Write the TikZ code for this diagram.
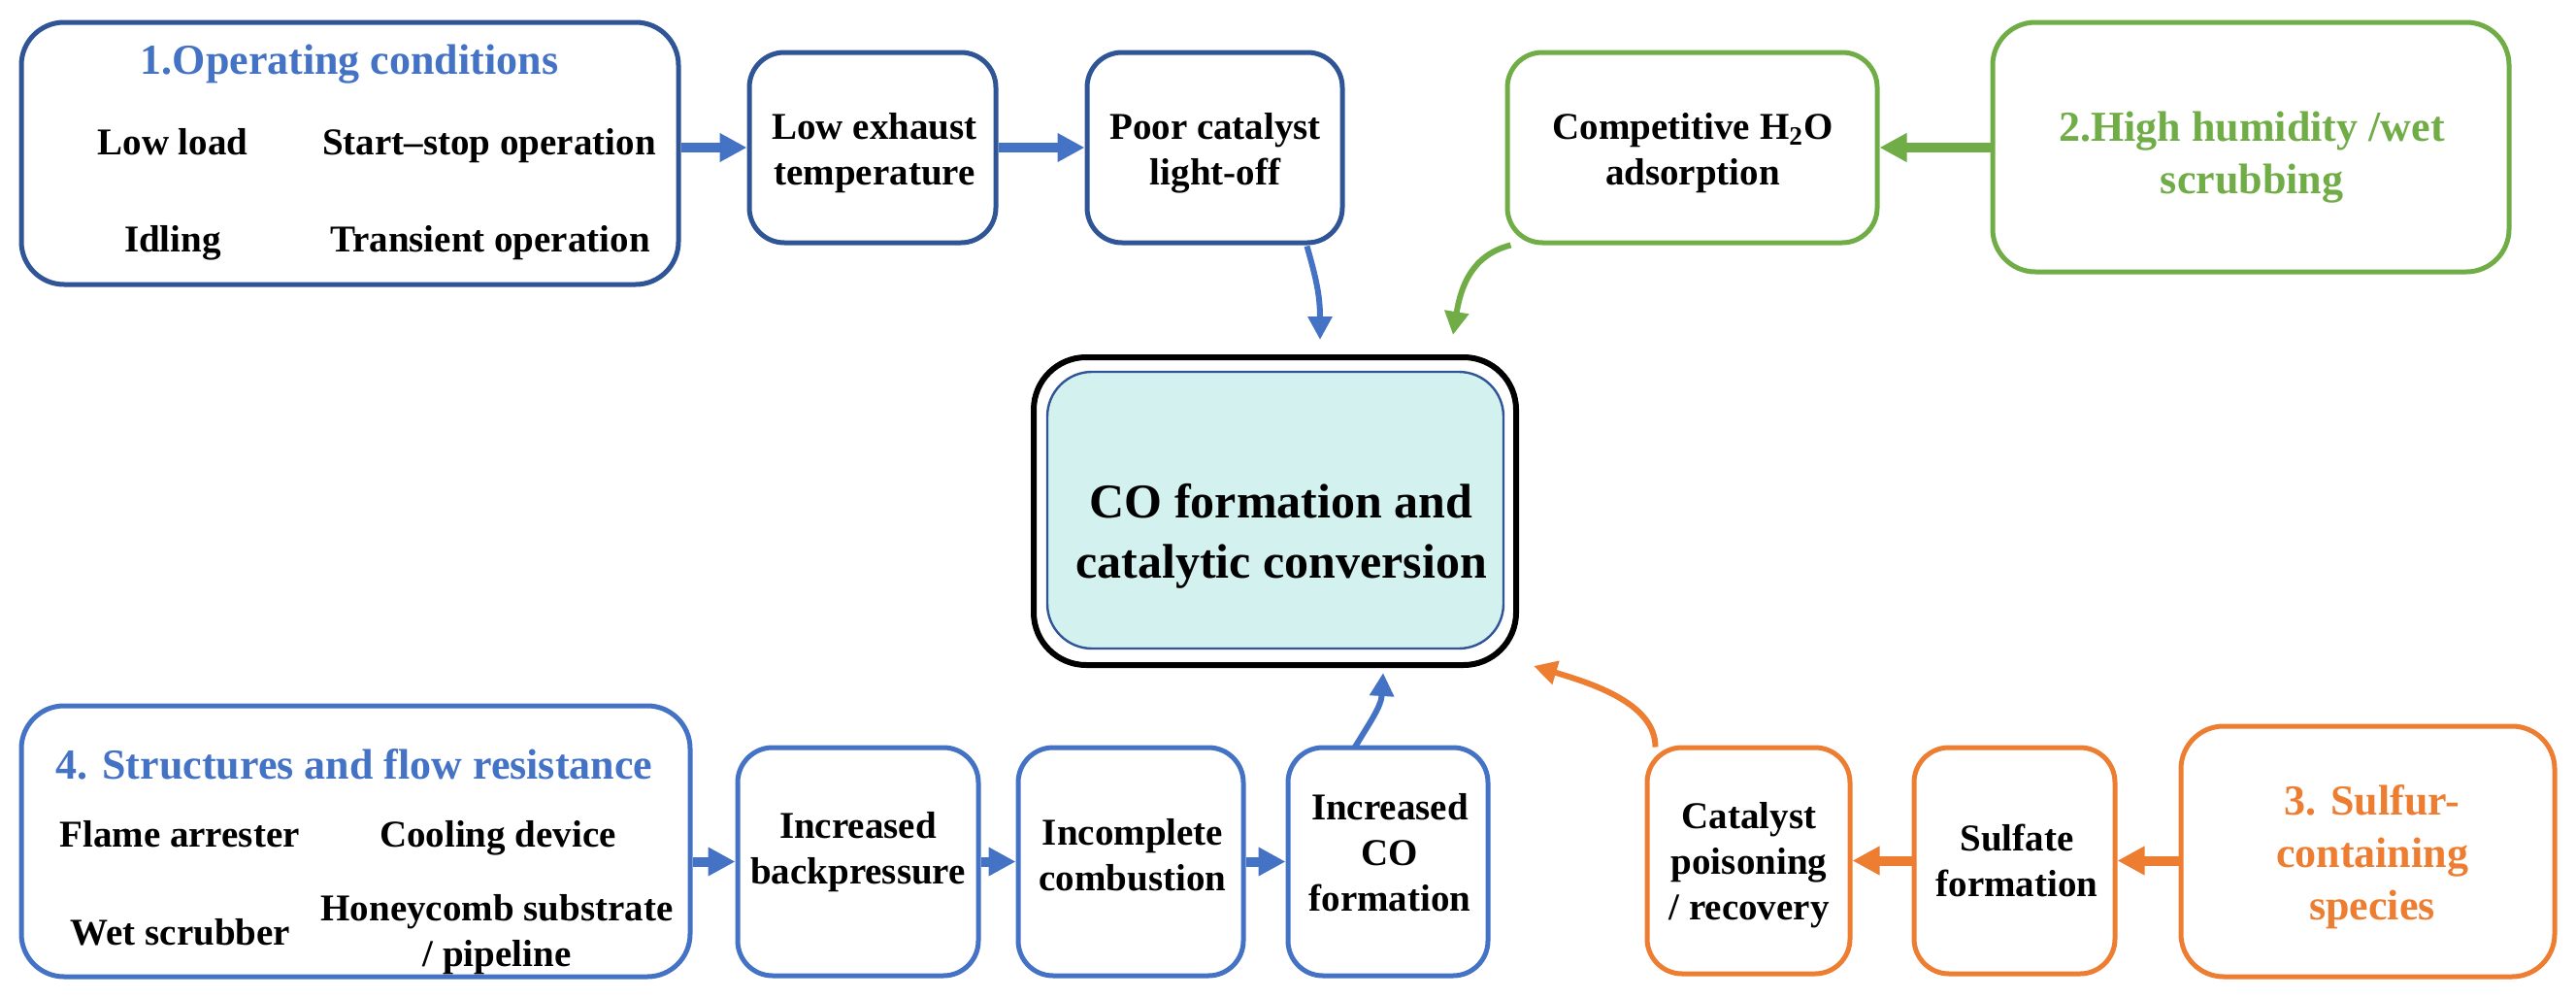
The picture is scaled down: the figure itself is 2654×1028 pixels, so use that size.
\documentclass[tikz,border=0pt]{standalone}
\usepackage{fontspec}
\setmainfont{Liberation Serif}
\usetikzlibrary{arrows.meta,fit,calc}
\definecolor{dblue}{HTML}{2F5597}
\definecolor{mblue}{HTML}{4472C4}
\definecolor{ggreen}{HTML}{70AD47}
\definecolor{oorange}{HTML}{ED7D31}
\definecolor{cyanfill}{HTML}{D3F1EF}
\begin{document}
\begin{tikzpicture}[x=0.5pt,y=-0.5pt,
  box/.style={draw, line width=2.5pt, rounded corners=18pt, inner sep=0pt, fill=white},
  bigbox/.style={box, rounded corners=22pt},
  txt/.style={font=\bfseries\fontsize{19.5}{23.5}\selectfont, align=center, anchor=base, inner sep=0pt},
  ttl/.style={font=\bfseries\fontsize{22}{27}\selectfont, align=center, anchor=base, inner sep=0pt},
  bigarrow/.style={line width=5pt, -{Triangle[length=14pt,width=14pt]}},
  curvy/.style={line width=3pt, -{Triangle[length=12pt,width=12pt]}},
]
\useasboundingbox (0,0) rectangle (2654,1028);

% ---- group 1 ----
\node[bigbox, draw=dblue, fit={(22,23) (699,293)}] (b1) {};
\node[ttl, text=mblue] (t1) at (360,76) {1.Operating conditions};
\node[txt] (t1a) at (178,159) {Low load};
\node[txt] (t1b) at (504,159) {Start--stop operation};
\node[txt] (t1c) at (178,259) {Idling};
\node[txt] (t1d) at (505,259) {Transient operation};

\node[box, draw=dblue, fit={(772,54) (1026,250)}] (b2) {};
\node[txt] (t2) at (901,190) {Low exhaust\\temperature};
\node[box, draw=dblue, fit={(1120,54) (1383,250)}] (b3) {};
\node[txt] (t3) at (1252,190) {Poor catalyst\\light-off};

% ---- group 2 ----
\node[box, draw=ggreen, fit={(1553,54) (1934,250)}] (b4) {};
\node[txt] (t4) at (1744,190) {Competitive H\textsubscript{2}O\\adsorption};
\node[bigbox, draw=ggreen, fit={(2053,23) (2585,280)}] (b5) {};
\node[ttl, text=ggreen] (t5) at (2320,199) {2.High humidity /wet\\scrubbing};

% ---- core ----
\node[draw=black, line width=3pt, rounded corners=27pt, inner sep=0pt, fit={(1065,368) (1562,685)}] (core) {};
\node[draw=dblue, line width=1.2pt, fill=cyanfill, rounded corners=23pt, inner sep=0pt, fit={(1079,383) (1549,668)}] (coreIn) {};
\node[font=\bfseries\fontsize{25}{31}\selectfont, align=center, anchor=base, inner sep=0pt] (coreTxt) at (1320,595) {CO formation and\\catalytic conversion};

% ---- group 4 ----
\node[bigbox, draw=mblue, fit={(22,727) (711,1006)}] (b6) {};
\node[ttl, text=mblue] (t6) at (365,802) {4. Structures and flow resistance};
\node[txt] (t6a) at (185,872) {Flame arrester};
\node[txt] (t6b) at (513,872) {Cooling device};
\node[txt] (t6c) at (186,973) {Wet scrubber};
\node[txt] (t6d) at (512,995) {Honeycomb substrate\\/ pipeline};

\node[box, draw=mblue, fit={(760,770) (1008,1005)}] (b7) {};
\node[txt] (t7) at (884,910) {Increased\\backpressure};
\node[box, draw=mblue, fit={(1049,770) (1281,1005)}] (b8) {};
\node[txt] (t8) at (1167,917) {Incomplete\\combustion};
\node[box, draw=mblue, fit={(1327,770) (1533,1005)}] (b9) {};
\node[txt] (t9) at (1432,938) {Increased\\CO\\formation};

% ---- group 3 ----
\node[box, draw=oorange, fit={(1697,770) (1906,1003)}] (b10) {};
\node[txt] (t10) at (1802,947) {Catalyst\\poisoning\\/ recovery};
\node[box, draw=oorange, fit={(1972,770) (2179,1003)}] (b11) {};
\node[txt] (t11) at (2078,923) {Sulfate\\formation};
\node[bigbox, draw=oorange, fit={(2247,748) (2632,1006)}] (b12) {};
\node[ttl, text=oorange] (t12) at (2444,947) {3. Sulfur-\\containing\\species};

% ---- straight arrows ----
\draw[bigarrow, mblue] (b1.east |- b2.west) -- (b2.west);
\draw[bigarrow, mblue] (b2.east) -- (b3.west);
\draw[bigarrow, ggreen] (b5.west |- b4.east) -- (b4.east);
\draw[bigarrow, mblue] (b6.east |- b7.west) -- (b7.west);
\draw[bigarrow, mblue] (b7.east) -- (b8.west);
\draw[bigarrow, mblue] (b8.east) -- (b9.west);
\draw[bigarrow, oorange] (b12.west |- b11.east) -- (b11.east);
\draw[bigarrow, oorange] (b11.west) -- (b10.east);

% ---- curved arrows ----
\draw[curvy, mblue] ($(b3.south east)+(-39,1)$) .. controls +(10,35) and +(0,-45) .. ($(core.north)+(46.5,-15)$);
\draw[curvy, ggreen] ($(b4.south west)+(6,0)$) .. controls +(-40,10) and +(8,-50) .. ($(core.north)+(183.5,-20)$);
\draw[curvy, mblue] ($(b9.north)+(-34,2)$) .. controls +(15,-25) and +(-2,35) .. ($(core.south)+(111.5,5)$);
\draw[curvy, oorange] ($(b10.north west)+(11,2)$) .. controls +(0,-45) and +(60,18) .. ($(core.south east)+(15,-2)$);
\end{tikzpicture}
\end{document}
